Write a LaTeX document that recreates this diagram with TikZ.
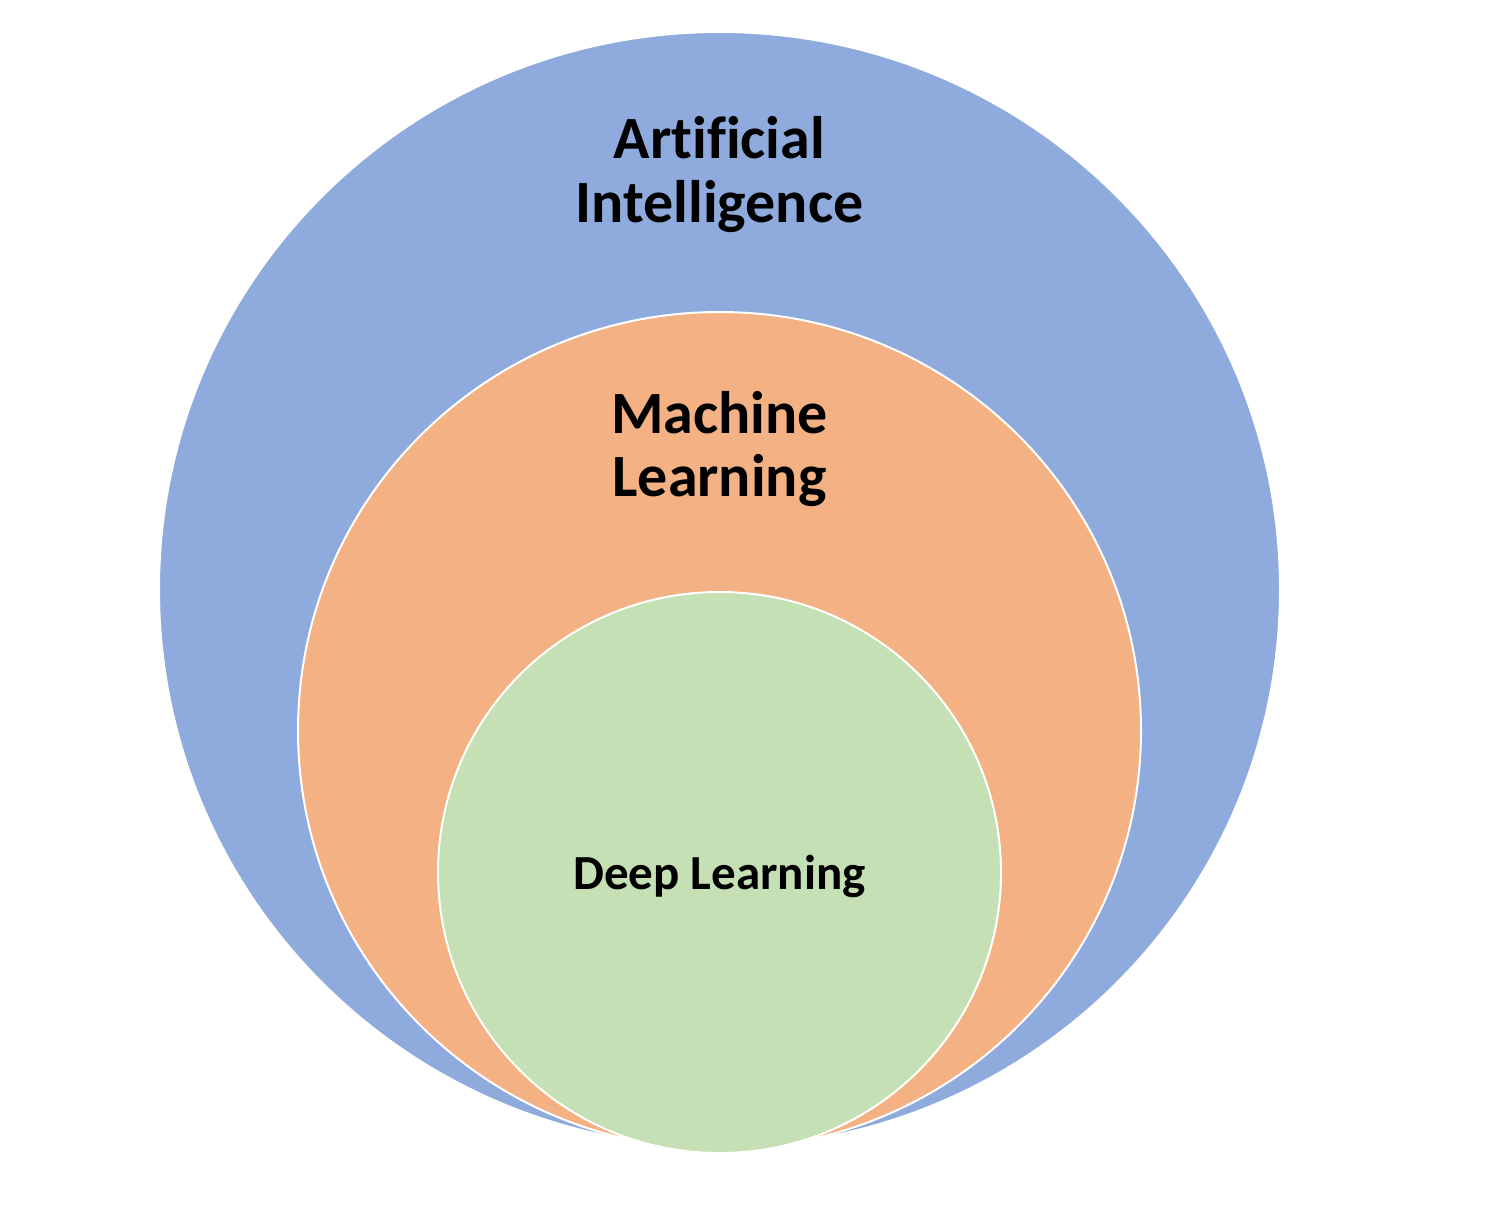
\documentclass[tikz,border=0pt]{standalone}
\usepackage{fontspec}
\setmainfont{Carlito}[Ligatures=NoCommon]
\usetikzlibrary{shapes.geometric}
\definecolor{aiblue}{HTML}{8FAADC}
\definecolor{mlorange}{HTML}{F4B183}
\definecolor{dlgreen}{HTML}{C5E0B4}
\begin{document}
\begin{tikzpicture}[x=1pt,y=-1pt,
  ring/.style={ellipse, inner sep=0pt, draw=white, line width=2pt},
  bigtext/.style={anchor=base, inner sep=0pt, font=\bfseries\fontsize{60}{64}\selectfont},
  smalltext/.style={anchor=base, inner sep=0pt, font=\bfseries\fontsize{49}{58}\selectfont}]
\useasboundingbox (0,0) rectangle (1490,1214);
\node[ring, fill=aiblue, minimum width=1121pt, minimum height=1115pt] (ai) at (719.5,589.5) {};
\node[ring, fill=mlorange, minimum width=843pt, minimum height=837pt] (ml) at (719.5,730.5) {};
\node[ring, fill=dlgreen, minimum width=563pt, minimum height=561pt] (dl) at (719.5,872.5) {};
\node[bigtext] (ai1) at (719.5,159) {Artificial};
\node[bigtext] (ai2) at (719.5,223) {Intelligence};
\node[bigtext] (ml1) at (719.5,433) {Machine};
\node[bigtext] (ml2) at (719.5,496) {Learning};
\node[smalltext] (dl1) at (719.5,889) {Deep Learning};
\end{tikzpicture}
\end{document}
